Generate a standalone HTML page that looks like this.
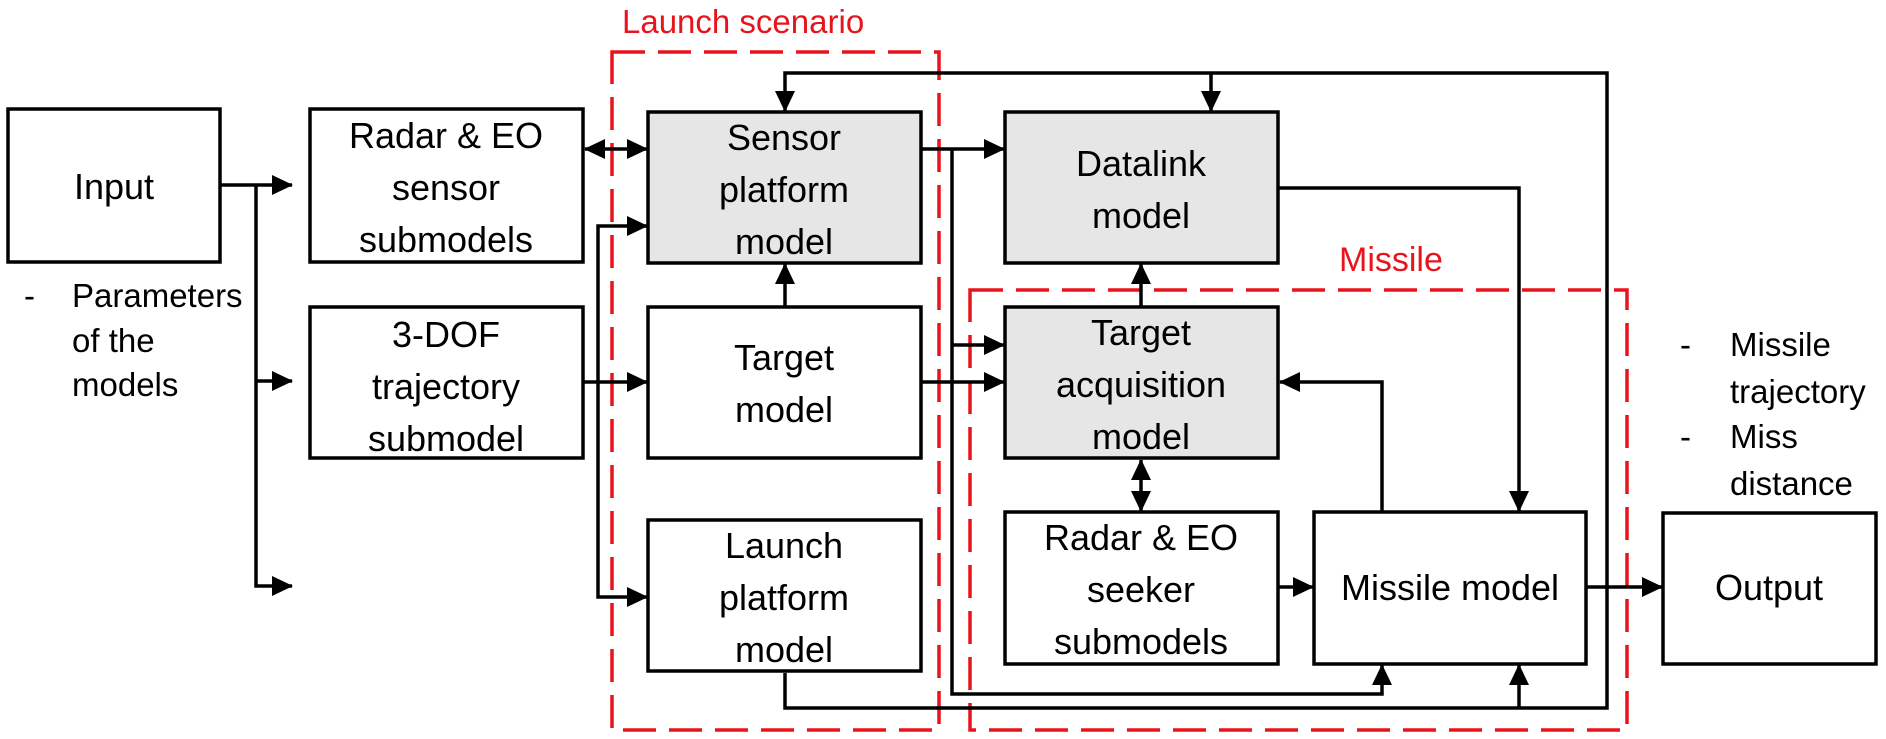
<!DOCTYPE html>
<html><head><meta charset="utf-8"><style>
html,body{margin:0;padding:0;background:#fff;}
svg{display:block;}
text{font-family:"Liberation Sans",sans-serif;}
</style></head><body>
<svg width="1886" height="739" viewBox="0 0 1886 739" xmlns="http://www.w3.org/2000/svg">
<defs>
<marker id="a" markerWidth="22" markerHeight="22" refX="20" refY="10" orient="auto" markerUnits="userSpaceOnUse">
<path d="M0,0 L21,10 L0,20 Z" fill="#000"/>
</marker>
<marker id="b" markerWidth="22" markerHeight="22" refX="1" refY="10" orient="auto" markerUnits="userSpaceOnUse">
<path d="M21,0 L0,10 L21,20 Z" fill="#000"/>
</marker>
</defs>
<text x="622" y="33" font-size="33" fill="#e8141b">Launch scenario</text>
<rect x="612" y="52" width="327" height="678" fill="none" stroke="#e8141b" stroke-width="3.5" stroke-dasharray="33,13"/>
<text x="1339" y="271" font-size="34" fill="#e8141b">Missile</text>
<rect x="970" y="290" width="657" height="440" fill="none" stroke="#e8141b" stroke-width="3.5" stroke-dasharray="33,13"/>

<g stroke="#000" stroke-width="3.5" fill="#fff">
<rect x="8" y="109" width="212" height="153"/>
<rect x="310" y="109" width="273" height="153"/>
<rect x="310" y="307" width="273" height="151"/>
<rect x="648" y="112" width="273" height="151" fill="#e6e6e6"/>
<rect x="648" y="307" width="273" height="151"/>
<rect x="648" y="520" width="273" height="151"/>
<rect x="1005" y="112" width="273" height="151" fill="#e6e6e6"/>
<rect x="1005" y="307" width="273" height="151" fill="#e6e6e6"/>
<rect x="1005" y="512" width="273" height="152"/>
<rect x="1314" y="512" width="272" height="152"/>
<rect x="1663" y="513" width="213" height="151"/>
</g>

<g stroke="#000" stroke-width="3.5" fill="none">
<path d="M220,185 H292" marker-end="url(#a)"/>
<path d="M256,185 V586 H292" marker-end="url(#a)"/>
<path d="M256,381 H292" marker-end="url(#a)"/>
<path d="M585,149 H647" marker-end="url(#a)" marker-start="url(#b)"/>
<path d="M583,382 H647" marker-end="url(#a)"/>
<path d="M598,382 V226 H647" marker-end="url(#a)"/>
<path d="M598,382 V597 H647" marker-end="url(#a)"/>
<path d="M785,307 V264" marker-end="url(#a)"/>
<path d="M785,673 V708 H1607 V73 H785 V111" marker-end="url(#a)"/>
<path d="M1211,73 V111" marker-end="url(#a)"/>
<path d="M1519,708 V665" marker-end="url(#a)"/>
<path d="M921,149 H1004" marker-end="url(#a)"/>
<path d="M952,149 V694 H1382 V665" marker-end="url(#a)"/>
<path d="M952,345 H1004" marker-end="url(#a)"/>
<path d="M921,382 H1004" marker-end="url(#a)"/>
<path d="M1141,307 V264" marker-end="url(#a)"/>
<path d="M1141,460 V511" marker-end="url(#a)" marker-start="url(#b)"/>
<path d="M1278,587 H1313" marker-end="url(#a)"/>
<path d="M1586,587 H1662" marker-end="url(#a)"/>
<path d="M1382,512 V382 H1280" marker-end="url(#a)"/>
<path d="M1278,188 H1519 V511" marker-end="url(#a)"/>
</g>

<g font-size="36" fill="#000" text-anchor="middle">
<text x="114" y="199">Input</text>
<text x="446" y="148">Radar &amp; EO</text>
<text x="446" y="200">sensor</text>
<text x="446" y="252">submodels</text>
<text x="446" y="347">3-DOF</text>
<text x="446" y="399">trajectory</text>
<text x="446" y="451">submodel</text>
<text x="784" y="150">Sensor</text>
<text x="784" y="202">platform</text>
<text x="784" y="254">model</text>
<text x="784" y="370">Target</text>
<text x="784" y="422">model</text>
<text x="784" y="558">Launch</text>
<text x="784" y="610">platform</text>
<text x="784" y="662">model</text>
<text x="1141" y="176">Datalink</text>
<text x="1141" y="228">model</text>
<text x="1141" y="345">Target</text>
<text x="1141" y="397">acquisition</text>
<text x="1141" y="449">model</text>
<text x="1141" y="550">Radar &amp; EO</text>
<text x="1141" y="602">seeker</text>
<text x="1141" y="654">submodels</text>
<text x="1450" y="600">Missile model</text>
<text x="1769" y="600">Output</text>
</g>
<g font-size="33" fill="#000">
<text x="24" y="307">-</text>
<text x="72" y="307">Parameters</text>
<text x="72" y="352">of the</text>
<text x="72" y="396">models</text>
<text x="1680" y="356">-</text>
<text x="1730" y="356">Missile</text>
<text x="1730" y="403">trajectory</text>
<text x="1680" y="448">-</text>
<text x="1730" y="448">Miss</text>
<text x="1730" y="495">distance</text>
</g>
</svg>
</body></html>
